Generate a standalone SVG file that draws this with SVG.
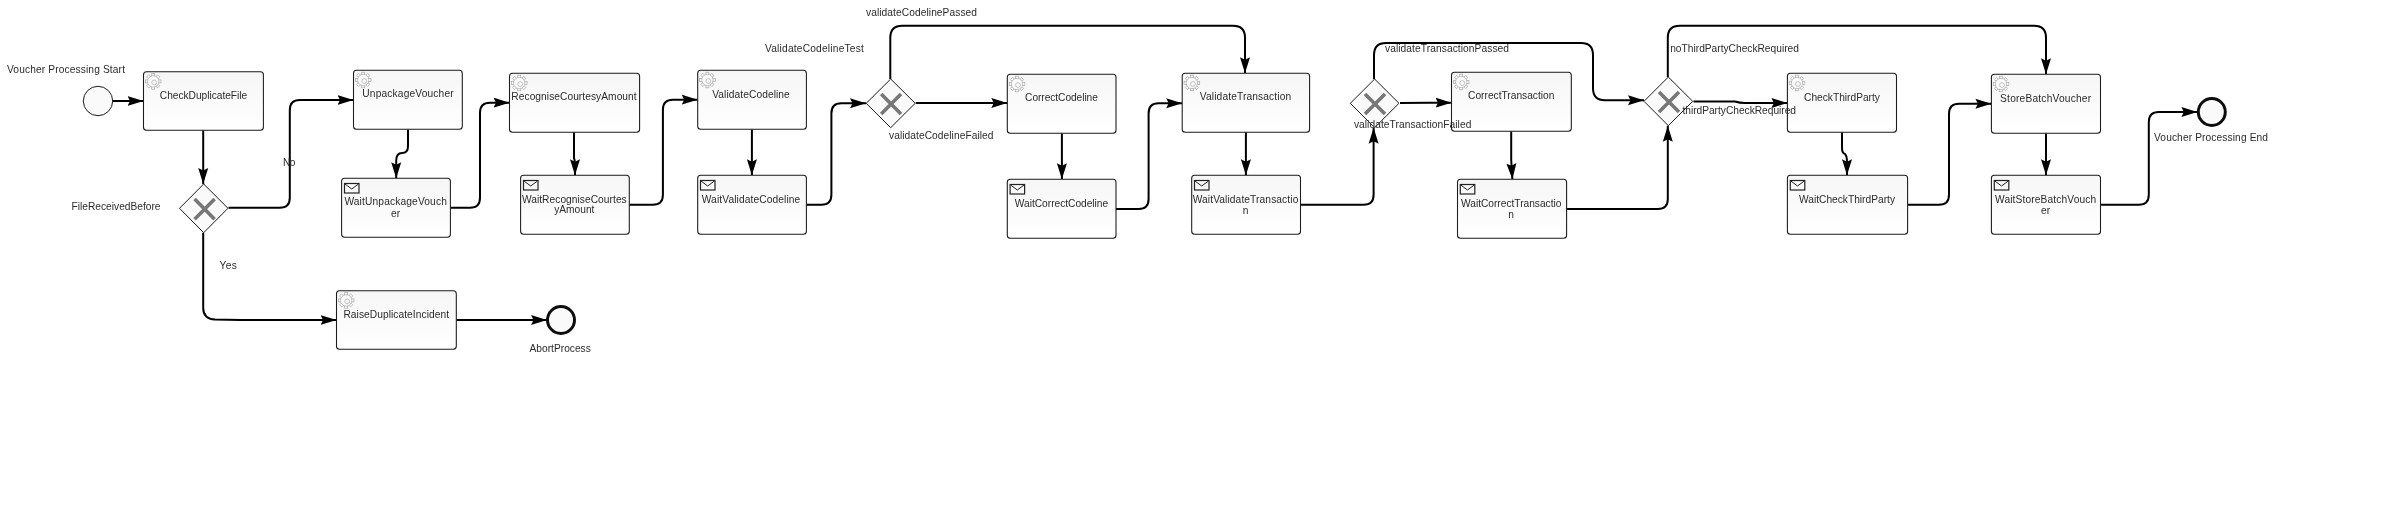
<svg xmlns="http://www.w3.org/2000/svg" width="2383" height="506" viewBox="0 0 2383 506">
<style>
text{font-family:"Liberation Sans",Arial,sans-serif;font-size:10.2px;fill:#2b2b2b}
.m{text-anchor:middle}
.task{fill:url(#tg);stroke:#1a1a1a;stroke-width:1.05}
.gw{fill:#fafafa;stroke:#1a1a1a;stroke-width:1}
.x{stroke:#777;stroke-width:3.6;fill:none}
.start{fill:#fafafa;stroke:#1a1a1a;stroke-width:1}
.end{fill:#fafafa;stroke:#111;stroke-width:3}
#conn path{fill:none;stroke:#000;stroke-width:2;marker-end:url(#a)}
</style>
<defs>
<filter id="soft" filterUnits="userSpaceOnUse" x="0" y="0" width="2383" height="506"><feGaussianBlur stdDeviation="0.3"/></filter>
<linearGradient id="tg" x1="0" y1="0" x2="0" y2="1"><stop offset="0" stop-color="#f6f6f6"/><stop offset="1" stop-color="#ffffff"/></linearGradient>
<marker id="a" markerUnits="userSpaceOnUse" markerWidth="17" markerHeight="12" viewBox="0 0 17 12" refX="16" refY="6" orient="auto"><path d="M0 1L16 6L0 11L2.5 6Z" fill="#000"/></marker>
<g id="gear" fill="#fafafa" stroke="#aaa" stroke-width=".7">
<rect x="-7.8" y="-1.5" width="15.6" height="3"/>
<rect x="-7.8" y="-1.5" width="15.6" height="3" transform="rotate(45)"/>
<rect x="-7.8" y="-1.5" width="15.6" height="3" transform="rotate(90)"/>
<rect x="-7.8" y="-1.5" width="15.6" height="3" transform="rotate(135)"/>
<circle r="5.7" stroke="none"/>
<circle r="5.7" fill="none"/>
<circle cx="1" cy="1" r="2.4"/>
</g>
<g id="env"><rect x=".5" y=".5" width="14.5" height="9.5" fill="#fafafa" stroke="#222" stroke-width="1.2"/><path d="M1 1L7.7 6L14.5 1" fill="none" stroke="#222" stroke-width="1"/></g>
</defs>
<rect width="2383" height="506" fill="#fff"/>
<g filter="url(#soft)">
<g id="conn">
<path d="M112.7 101H143.5"/>
<path d="M203.2 130.3V184"/>
<path d="M228.5 207.7H279.8Q289.8 207.7 289.8 197.7V110Q289.8 100 299.8 100H353.5"/>
<path d="M408 129.3V146Q408 153 402 153Q396.2 153 396.2 161V178.3"/>
<path d="M450.4 207.7H470Q480 207.7 480 197.7V112.7Q480 102.7 490 102.7H509.5"/>
<path d="M574 132.3V158Q575 160 575 165V175.3"/>
<path d="M629.3 204.7H652.9Q662.9 204.7 662.9 194.7V109.7Q662.9 99.7 672.9 99.7H697.7"/>
<path d="M751.9 129.3V175.3"/>
<path d="M806.4 204.7H821.4Q831.4 204.7 831.4 194.7V113.3Q831.4 103.3 841.4 103.3H866"/>
<path d="M915.8 103H1007.3"/>
<path d="M890.3 79V37.7Q890.3 25.7 902.3 25.7H1233Q1245 25.7 1245 37.7V73.3"/>
<path d="M1061.9 133.3V179.3"/>
<path d="M1116 209H1138.6Q1148.6 209 1148.6 199V113.3Q1148.6 103.3 1158.6 103.3H1182.2"/>
<path d="M1245.9 132.3V175.3"/>
<path d="M1300.5 204.7H1363.6Q1373.6 204.7 1373.6 194.7V127.7"/>
<path d="M1400 103L1430 102.7H1451.5"/>
<path d="M1374 79V55Q1374 43 1386 43H1581Q1593 43 1593 55V88.3Q1593 100.3 1605 100.3H1644"/>
<path d="M1511.2 131.3V160L1512.4 179.3"/>
<path d="M1566.6 209H1657.8Q1667.8 209 1667.8 199V125.7"/>
<path d="M1667.8 77V37.7Q1667.8 25.7 1679.8 25.7H2034Q2046 25.7 2046 37.7V74.3"/>
<path d="M1693.5 101.5H1735Q1739.5 103 1745 103H1787.4"/>
<path d="M1842 132.3V148Q1842 153 1845 154Q1847 156 1847 162V175.3"/>
<path d="M1907.6 204.7H1939Q1949 204.7 1949 194.7V113.7Q1949 103.7 1959 103.7H1991.4"/>
<path d="M2046 133.3V175.3"/>
<path d="M2100.5 204.7H2138.8Q2148.8 204.7 2148.8 194.7V122Q2148.8 112 2158.8 112H2197.4"/>
<path d="M203.2 232.7V308Q203.2 319 215 319.5L240 320H336.5"/>
<path d="M456.3 320H547"/>
</g>
<g id="start"><circle class="start" cx="98" cy="101" r="14.7"/><text x="7" y="72.5" textLength="118">Voucher Processing Start</text></g>
<g id="checkDuplicateFile"><rect class="task" x="143.5" y="71.7" width="119.9" height="58.6" rx="3"/><use href="#gear" x="153.2" y="81.4"/><text class="m" x="203.5" y="98.5" textLength="87.4">CheckDuplicateFile</text></g>
<g id="fileReceivedBefore"><path class="gw" d="M203.7 184L228 208.3L203.7 232.7L179.5 208.3Z"/><path class="x" d="M194.6 199L214.6 219.3M214.6 199L194.6 219.3"/><text x="71.6" y="209.5" textLength="88.9">FileReceivedBefore</text></g>
<g id="unpackageVoucher"><rect class="task" x="353.5" y="70.3" width="108.8" height="59" rx="3"/><use href="#gear" x="363.2" y="80"/><text class="m" x="408" y="97.2" textLength="91.3">UnpackageVoucher</text></g>
<g id="waitUnpackageVoucher"><rect class="task" x="341.6" y="178.3" width="108.8" height="59" rx="3"/><use href="#env" x="344" y="183"/><text class="m" x="395.6" y="205.2" textLength="102.4">WaitUnpackageVouch</text><text class="m" x="395.6" y="216.5">er</text></g>
<g id="recogniseCourtesyAmount"><rect class="task" x="509.5" y="73.3" width="130.1" height="59" rx="3"/><use href="#gear" x="519.2" y="83"/><text class="m" x="574" y="100.2" textLength="125.3">RecogniseCourtesyAmount</text></g>
<g id="waitRecogniseCourtesyAmount"><rect class="task" x="520.6" y="175.3" width="108.7" height="59" rx="3"/><use href="#env" x="523" y="180"/><text class="m" x="574.3" y="202.5" textLength="104.8">WaitRecogniseCourtes</text><text class="m" x="574.3" y="213.2" textLength="40.3">yAmount</text></g>
<g id="validateCodeline"><rect class="task" x="697.7" y="70.3" width="108.7" height="59" rx="3"/><use href="#gear" x="707.4" y="80"/><text class="m" x="751" y="97.5" textLength="77.5">ValidateCodeline</text></g>
<g id="waitValidateCodeline"><rect class="task" x="697.7" y="175.3" width="108.7" height="59" rx="3"/><use href="#env" x="700" y="180"/><text class="m" x="751" y="202.5" textLength="98.5">WaitValidateCodeline</text></g>
<g id="validateCodelineTest"><path class="gw" d="M890.7 79L915.2 103.3L890.7 127.7L866.2 103.3Z"/><path class="x" d="M881.2 94L901 114M901 94L881.2 114"/><text x="765" y="51.5" textLength="98.8">ValidateCodelineTest</text></g>
<g id="correctCodeline"><rect class="task" x="1007.3" y="74.3" width="108.7" height="59" rx="3"/><use href="#gear" x="1017" y="84"/><text class="m" x="1061.5" y="101.2" textLength="72.8">CorrectCodeline</text></g>
<g id="waitCorrectCodeline"><rect class="task" x="1007.3" y="179.3" width="108.7" height="59" rx="3"/><use href="#env" x="1009.6" y="184"/><text class="m" x="1061.5" y="206.5" textLength="93.3">WaitCorrectCodeline</text></g>
<g id="validateTransaction"><rect class="task" x="1182.2" y="73.3" width="127.4" height="59" rx="3"/><use href="#gear" x="1191.9" y="83"/><text class="m" x="1245.5" y="100.2" textLength="91.3">ValidateTransaction</text></g>
<g id="waitValidateTransaction"><rect class="task" x="1191.7" y="175.3" width="108.8" height="59" rx="3"/><use href="#env" x="1194" y="180"/><text class="m" x="1245.5" y="202.5" textLength="105.6">WaitValidateTransactio</text><text class="m" x="1245.5" y="213.8">n</text></g>
<g id="validateTransactionGateway"><path class="gw" d="M1374.6 79L1399 103.3L1374.6 127.7L1350.3 103.3Z"/><path class="x" d="M1365 94L1385 114M1385 94L1365 114"/></g>
<g id="correctTransaction"><rect class="task" x="1451.5" y="72.3" width="119.8" height="59" rx="3"/><use href="#gear" x="1461.2" y="82"/><text class="m" x="1511.2" y="99.2" textLength="86.2">CorrectTransaction</text></g>
<g id="waitCorrectTransaction"><rect class="task" x="1457.5" y="179.3" width="109.1" height="59" rx="3"/><use href="#env" x="1459.8" y="184"/><text class="m" x="1511.2" y="206.5" textLength="100.4">WaitCorrectTransactio</text><text class="m" x="1511.2" y="217.5">n</text></g>
<g id="thirdPartyGateway"><path class="gw" d="M1668.3 77L1692.7 101.3L1668.3 125.7L1644 101.3Z"/><path class="x" d="M1659 92L1679 112M1679 92L1659 112"/></g>
<g id="checkThirdParty"><rect class="task" x="1787.4" y="73.3" width="109.1" height="59" rx="3"/><use href="#gear" x="1797" y="83"/><text class="m" x="1842" y="100.5" textLength="75.9">CheckThirdParty</text></g>
<g id="waitCheckThirdParty"><rect class="task" x="1787.4" y="175.3" width="120.2" height="59" rx="3"/><use href="#env" x="1789.8" y="180"/><text class="m" x="1847" y="202.5" textLength="96">WaitCheckThirdParty</text></g>
<g id="storeBatchVoucher"><rect class="task" x="1991.4" y="74.3" width="109.1" height="59" rx="3"/><use href="#gear" x="2001" y="84"/><text class="m" x="2045.6" y="101.5" textLength="91">StoreBatchVoucher</text></g>
<g id="waitStoreBatchVoucher"><rect class="task" x="1991.4" y="175.3" width="109.1" height="59" rx="3"/><use href="#env" x="1993.8" y="180"/><text class="m" x="2045.6" y="202.5" textLength="101.2">WaitStoreBatchVouch</text><text class="m" x="2045.6" y="213.8">er</text></g>
<g id="end"><circle class="end" cx="2211.8" cy="112" r="13.5"/><text x="2154" y="140.5" textLength="114">Voucher Processing End</text></g>
<g id="raiseDuplicateIncident"><rect class="task" x="336.5" y="290.7" width="119.8" height="58.6" rx="3"/><use href="#gear" x="346.2" y="300.4"/><text class="m" x="396.2" y="317.5" textLength="105.6">RaiseDuplicateIncident</text></g>
<g id="abortProcess"><circle class="end" cx="561" cy="320" r="13.5"/><text x="529.5" y="351.5" textLength="61.3">AbortProcess</text></g>
<g id="labels">
<text x="283" y="165.5" textLength="12.4">No</text>
<text x="219.5" y="268.5" textLength="17.3">Yes</text>
<text x="866" y="16.2" textLength="111">validateCodelinePassed</text>
<text x="889" y="139.2" textLength="104.5">validateCodelineFailed</text>
<text x="1385" y="52.2" textLength="124">validateTransactionPassed</text>
<text x="1353.9" y="127.5" textLength="117.4">validateTransactionFailed</text>
<text x="1670.2" y="51.5" textLength="128.7">noThirdPartyCheckRequired</text>
<text x="1682.4" y="113.5" textLength="113.6">thirdPartyCheckRequired</text>
</g>
</g>
</svg>
